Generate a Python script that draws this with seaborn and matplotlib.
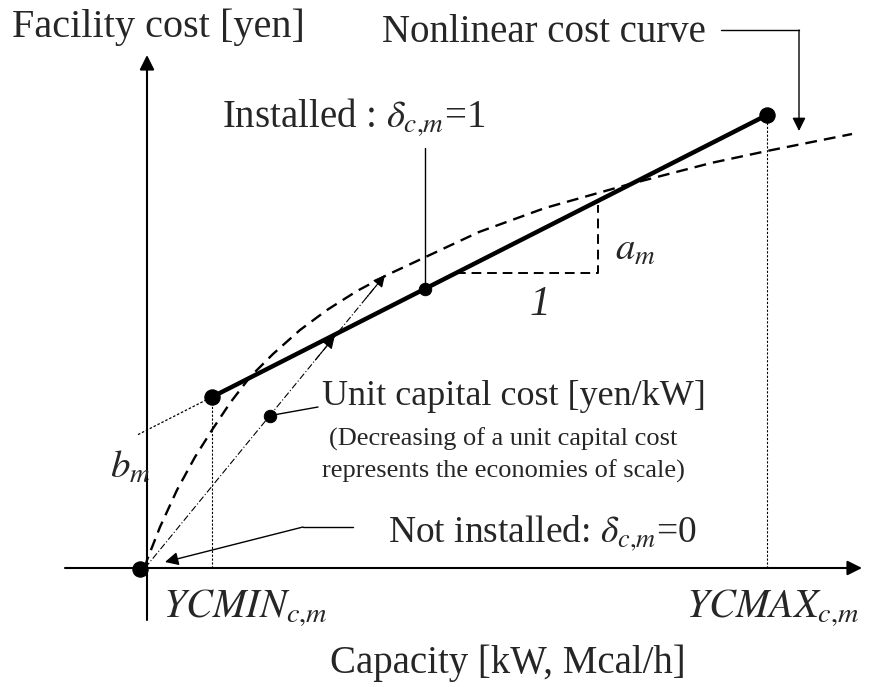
import matplotlib
matplotlib.use("Agg")
import matplotlib.pyplot as plt
import seaborn as sns
import pandas as pd

# ---------------- data (conceptual capacity / cost units) ----------------
ycmin = 67
ycmax = 622
cost_at_min = 171
cost_at_max = 453
mid_capacity = 280

curve_x = [0, 2, 15, 32, 50, 67, 85, 105, 128, 155, 182, 212, 242, 272,
           334, 400, 485, 566, 622, 707]
curve_y = [0, 8, 41, 78, 111, 138, 165, 191, 214, 238, 258, 277, 293, 307,
           336, 360, 384, 405, 417, 434]

unit_end = [240, 293]        # unit capital cost ray (ends on nonlinear curve)
unit_mid_frac = 0.79         # arrow where the ray meets the linear line
unit_dot_frac = 0.52         # marked point on the ray

# ---------------- derived linear cost line ----------------
slope = (cost_at_max - cost_at_min) / (ycmax - ycmin)
intercept = cost_at_min - slope * ycmin
lin = pd.DataFrame({"x": [ycmin, ycmax],
                    "y": [cost_at_min, cost_at_max]})
ext = pd.DataFrame({"x": [-7, ycmin], "y": [intercept - 7 * slope, cost_at_min]})
curve = pd.DataFrame({"x": curve_x, "y": curve_y})

sns.set_theme(style="white")
plt.rcParams["font.family"] = ["Liberation Serif", "DejaVu Serif"]
plt.rcParams["mathtext.fontset"] = "stix"

fig = plt.figure(figsize=(8.77, 6.87), dpi=100)
ax = fig.add_axes([0, 0, 1, 1])
ax.set_xlim(-145, 732)
ax.set_ylim(-119, 568)
ax.axis("off")

K = "black"

# axes with arrows
ax.annotate("", xy=(717, 0), xytext=(-80, 0),
            arrowprops=dict(arrowstyle="-|>", lw=1.5, color=K,
                            mutation_scale=22, shrinkA=0, shrinkB=0))
ax.annotate("", xy=(2, 513), xytext=(2, -52),
            arrowprops=dict(arrowstyle="-|>", lw=1.5, color=K,
                            mutation_scale=22, shrinkA=0, shrinkB=0))

# nonlinear cost curve
sns.lineplot(data=curve, x="x", y="y", ax=ax, color=K, lw=1.7,
             sort=False, estimator=None, linestyle=(0, (5, 3)))

# linear approximation
sns.lineplot(data=lin, x="x", y="y", ax=ax, color=K, lw=3.2,
             sort=False, estimator=None)
sns.lineplot(data=ext, x="x", y="y", ax=ax, color=K, lw=0.9,
             sort=False, estimator=None, linestyle=(0, (2, 1.5)))

# unit capital cost ray from origin
ray = pd.DataFrame({"x": [0, unit_end[0]], "y": [0, unit_end[1]]})
sns.lineplot(data=ray, x="x", y="y", ax=ax, color=K, lw=0.8,
             sort=False, estimator=None, linestyle=(0, (6, 2, 1, 2)))
for f in (unit_mid_frac, 1.0):
    ax.annotate("", xy=(unit_end[0] * f, unit_end[1] * f),
                xytext=(unit_end[0] * (f - 0.08), unit_end[1] * (f - 0.08)),
                arrowprops=dict(arrowstyle="-|>", lw=0.8, color=K,
                                mutation_scale=18, shrinkA=0, shrinkB=0))

# vertical dotted guides
for xv, yv in ((ycmin, cost_at_min), (ycmax, cost_at_max)):
    g = pd.DataFrame({"x": [xv, xv], "y": [0, yv]})
    sns.lineplot(data=g, x="x", y="y", ax=ax, color=K, lw=0.8,
                 sort=False, estimator=None, linestyle=(0, (2, 1.5)))

# slope triangle
tri_x0, tri_x1 = 311, 453
tri_y = intercept + slope * tri_x0
tri = pd.DataFrame({"x": [tri_x0, tri_x1, tri_x1],
                    "y": [tri_y, tri_y, intercept + slope * tri_x1 - 4]})
sns.lineplot(data=tri, x="x", y="y", ax=ax, color=K, lw=1.4,
             sort=False, estimator=None, linestyle=(0, (5, 3)))

# dots
dots = pd.DataFrame({"x": [ycmin, ycmax, -5],
                     "y": [cost_at_min, cost_at_max, -1]})
sns.scatterplot(data=dots, x="x", y="y", ax=ax, color=K, s=120,
                edgecolor=K, zorder=5)
dot_u = (unit_end[0] * unit_dot_frac, unit_end[1] * unit_dot_frac)
small = pd.DataFrame({"x": [mid_capacity, dot_u[0]],
                      "y": [intercept + slope * mid_capacity, dot_u[1]]})
sns.scatterplot(data=small, x="x", y="y", ax=ax, color=K, s=80,
                edgecolor=K, zorder=5)

# leaders
ax.plot([mid_capacity, mid_capacity],
        [420, intercept + slope * mid_capacity], color=K, lw=1.0)
ax.plot([dot_u[0], 173], [dot_u[1], 161], color=K, lw=1.0)
ax.plot([576, 654], [538, 538], color=K, lw=1.0)
ax.annotate("", xy=(654, 437), xytext=(654, 538),
            arrowprops=dict(arrowstyle="-|>", lw=1.0, color=K,
                            mutation_scale=20, shrinkA=0, shrinkB=0))
ax.plot([208, 158], [41, 41], color=K, lw=1.0)
ax.annotate("", xy=(20, 6), xytext=(158, 41),
            arrowprops=dict(arrowstyle="-|>", lw=1.0, color=K,
                            mutation_scale=20, shrinkA=0, shrinkB=0))

# texts
FS = 28
B = "baseline"
ax.text(-133, 531, "Facility cost [yen]", fontsize=FS + 1, ha="left", va=B)
ax.text(237, 526, "Nonlinear cost curve", fontsize=FS, ha="left", va=B)
ax.text(77, 441, r"Installed : $\delta_{c{,}m}$=1", fontsize=FS,
        ha="left", va=B)
ax.text(177, 163, "Unit capital cost [yen/kW]", fontsize=FS - 2,
        ha="left", va=B)
ax.text(358, 122, "(Decreasing of a unit capital cost", fontsize=19,
        ha="center", va=B)
ax.text(358, 90, "represents the economies of scale)", fontsize=19,
        ha="center", va=B)
ax.text(243, 26, r"Not installed: $\delta_{c{,}m}$=0", fontsize=FS - 1,
        ha="left", va=B)
ax.text(18, -50, r"$YCMIN_{c{,}m}$", fontsize=29, ha="left", va=B)
ax.text(541, -50, r"$YCMAX_{c{,}m}$", fontsize=29, ha="left", va=B)
ax.text(363, -105, "Capacity [kW, Mcal/h]", fontsize=FS, ha="center",
        va=B)
ax.text(-15, 100, r"$b_m$", fontsize=28, ha="center", va="center")
ax.text(470, 318, r"$a_m$", fontsize=28, ha="left", va="center")
ax.text(395, 263, "1", fontsize=30, fontstyle="italic",
        ha="center", va="center")

fig.savefig("out.png", dpi=100)
